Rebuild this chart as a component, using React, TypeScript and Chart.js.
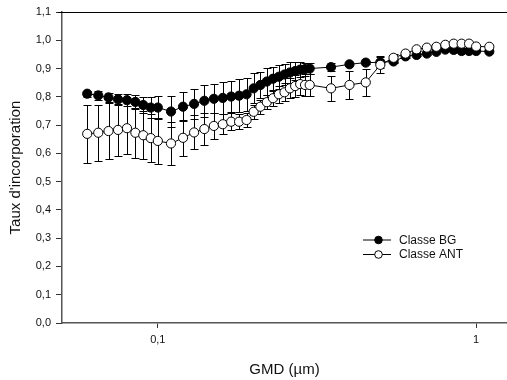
import React, { useEffect, useRef } from "react";
import { Chart, registerables } from "chart.js";

Chart.register(...registerables);

const GMD = [0.06, 0.065, 0.07, 0.075, 0.08, 0.085, 0.09, 0.095, 0.1, 0.11, 0.12, 0.13, 0.14, 0.15, 0.16, 0.17, 0.18, 0.19, 0.2, 0.21, 0.22, 0.23, 0.24, 0.25, 0.26, 0.27, 0.28, 0.29, 0.3, 0.35, 0.4, 0.45, 0.5, 0.55, 0.6, 0.65, 0.7, 0.75, 0.8, 0.85, 0.9, 0.95, 1.0, 1.1];

const BG = [0.811, 0.805, 0.798, 0.791, 0.788, 0.782, 0.771, 0.762, 0.762, 0.748, 0.765, 0.775, 0.786, 0.793, 0.796, 0.801, 0.804, 0.809, 0.83, 0.842, 0.854, 0.864, 0.871, 0.879, 0.886, 0.891, 0.896, 0.898, 0.9, 0.905, 0.915, 0.921, 0.922, 0.925, 0.943, 0.948, 0.953, 0.959, 0.967, 0.966, 0.962, 0.962, 0.962, 0.96];
const BG_ERR = [0.01, 0.015, 0.017, 0.02, 0.022, 0.026, 0.03, 0.036, 0.04, 0.055, 0.051, 0.054, 0.057, 0.052, 0.058, 0.055, 0.059, 0.058, 0.053, 0.047, 0.047, 0.043, 0.042, 0.036, 0.036, 0.031, 0.027, 0.023, 0.02, 0.015, 0.006, 0.006, 0.02, 0.006, 0.005, 0.005, 0.005, 0.005, 0.005, 0.005, 0.005, 0.005, 0.005, 0.005];

const ANT = [0.669, 0.673, 0.679, 0.683, 0.689, 0.673, 0.664, 0.654, 0.644, 0.635, 0.655, 0.674, 0.686, 0.697, 0.703, 0.712, 0.712, 0.718, 0.747, 0.765, 0.781, 0.795, 0.809, 0.816, 0.83, 0.838, 0.845, 0.842, 0.842, 0.83, 0.842, 0.851, 0.913, 0.938, 0.953, 0.968, 0.974, 0.977, 0.984, 0.988, 0.988, 0.988, 0.978, 0.977];
const ANT_ERR = [0.103, 0.099, 0.099, 0.093, 0.092, 0.089, 0.085, 0.084, 0.08, 0.077, 0.063, 0.06, 0.056, 0.045, 0.035, 0.03, 0.027, 0.026, 0.025, 0.025, 0.025, 0.028, 0.03, 0.032, 0.035, 0.038, 0.04, 0.04, 0.04, 0.044, 0.05, 0.048, 0.03, 0.015, 0.006, 0.006, 0.006, 0.006, 0.006, 0.006, 0.006, 0.006, 0.006, 0.006];

const X_TICKS = [0.1, 1];
const X_TICK_LABELS = ["0,1", "1"];
const LEGEND_LABELS = ["Classe BG", "Classe ANT"];
const X_TITLE = "GMD (µm)";
const Y_TITLE = "Taux d'incorporation";

const FONT = "Arial, 'Liberation Sans', sans-serif";

const fmtY = (v: number) => v.toFixed(1).replace(".", ",");

const errorBarPlugin = {
  id: "errorBars",
  beforeDatasetsDraw(chart: any) {
    const { ctx, chartArea, scales } = chart;
    const yScale = scales.y;
    ctx.save();
    ctx.beginPath();
    ctx.rect(chartArea.left, chartArea.top, chartArea.right - chartArea.left, chartArea.bottom - chartArea.top);
    ctx.clip();
    ctx.strokeStyle = "#000";
    ctx.lineWidth = 1;
    chart.data.datasets.forEach((ds: any, i: number) => {
      const meta = chart.getDatasetMeta(i);
      const errs: number[] = ds.errors || [];
      meta.data.forEach((pt: any, j: number) => {
        const v = ds.data[j].y;
        const e = errs[j] || 0;
        const x = Math.round(pt.x) + 0.5;
        const yTop = Math.round(yScale.getPixelForValue(v + e)) + 0.5;
        const yBot = Math.round(yScale.getPixelForValue(v - e)) + 0.5;
        ctx.beginPath();
        ctx.moveTo(x, yTop);
        ctx.lineTo(x, yBot);
        ctx.moveTo(x - 4, yTop);
        ctx.lineTo(x + 4, yTop);
        ctx.moveTo(x - 4, yBot);
        ctx.lineTo(x + 4, yBot);
        ctx.stroke();
      });
    });
    ctx.restore();
  },
  afterDraw(chart: any) {
    const { ctx, chartArea } = chart;
    ctx.save();
    // top frame line
    ctx.strokeStyle = "#000";
    ctx.lineWidth = 1;
    ctx.beginPath();
    ctx.moveTo(chartArea.left - 4, Math.round(chartArea.top) + 0.5);
    ctx.lineTo(chartArea.right, Math.round(chartArea.top) + 0.5);
    ctx.stroke();

    // legend
    const lx = chartArea.left + 301;
    const ly = chartArea.top + 228;
    const rows = [
      { label: LEGEND_LABELS[0], fill: "#000" },
      { label: LEGEND_LABELS[1], fill: "#fff" },
    ];
    ctx.font = `12px ${FONT}`;
    ctx.textBaseline = "middle";
    ctx.textAlign = "left";
    rows.forEach((r, k) => {
      const y = ly + k * 14.5;
      ctx.beginPath();
      ctx.strokeStyle = "#000";
      ctx.lineWidth = 1;
      ctx.moveTo(lx, y);
      ctx.lineTo(lx + 28, y);
      ctx.stroke();
      ctx.beginPath();
      ctx.arc(lx + 15.5, y, 3.8, 0, Math.PI * 2);
      ctx.fillStyle = r.fill;
      ctx.fill();
      ctx.stroke();
      ctx.fillStyle = "#111";
      ctx.fillText(r.label, lx + 36, y + 0.5);
    });
    ctx.restore();
  },
};

export default function App() {
  const ref = useRef<HTMLCanvasElement | null>(null);

  useEffect(() => {
    if (!ref.current) return;
    const chart = new Chart(ref.current, {
      type: "line",
      data: {
        datasets: [
          {
            label: LEGEND_LABELS[0],
            data: GMD.map((x, i) => ({ x, y: BG[i] })),
            errors: BG_ERR,
            borderColor: "#000",
            borderWidth: 1,
            pointRadius: 4.6,
            pointBorderWidth: 1,
            pointBackgroundColor: "#000",
            pointBorderColor: "#000",
            order: 2,
          } as any,
          {
            label: LEGEND_LABELS[1],
            data: GMD.map((x, i) => ({ x, y: ANT[i] })),
            errors: ANT_ERR,
            borderColor: "#000",
            borderWidth: 1,
            pointRadius: 4.6,
            pointBorderWidth: 1,
            pointBackgroundColor: "#fff",
            pointBorderColor: "#000",
            order: 1,
          } as any,
        ],
      },
      options: {
        animation: false,
        responsive: false,
        devicePixelRatio: 1,
        layout: { autoPadding: false, padding: { top: 12, right: 0, left: 0, bottom: 0 } },
        plugins: {
          legend: { display: false },
          tooltip: { enabled: false },
        },
        scales: {
          x: {
            type: "logarithmic",
            min: 0.05,
            max: 1.25,
            afterBuildTicks: (s: any) => {
              s.ticks = X_TICKS.map((v) => ({ value: v }));
            },
            afterFit: (s: any) => {
              s.height = 57;
              s.paddingLeft = 0;
              s.paddingRight = 0;
            },
            border: { display: true, color: "#555", width: 1.5 },
            grid: { drawOnChartArea: false, drawTicks: true, tickLength: 5, color: "#333" },
            ticks: {
              autoSkip: false,
              maxRotation: 0,
              padding: 5,
              color: "#111",
              font: { family: FONT, size: 11 },
              callback: (_v: any, i: number) => X_TICK_LABELS[i],
            },
            title: {
              display: true,
              text: X_TITLE,
              color: "#111",
              font: { family: FONT, size: 15 },
              padding: { top: 0, bottom: 1 },
            },
          },
          y: {
            min: 0,
            max: 1.1,
            afterFit: (s: any) => {
              s.width = 62;
            },
            border: { display: true, color: "#555", width: 1.5 },
            grid: { drawOnChartArea: false, drawTicks: true, tickLength: 6, color: "#333" },
            ticks: {
              stepSize: 0.1,
              padding: 5,
              color: "#111",
              font: { family: FONT, size: 11 },
              callback: (v: any) => fmtY(Number(v)),
            },
            title: {
              display: true,
              text: Y_TITLE,
              color: "#111",
              font: { family: FONT, size: 15 },
              padding: { top: 7, bottom: 0 },
            },
          },
        },
      } as any,
      plugins: [errorBarPlugin],
    });
    return () => chart.destroy();
  }, []);

  return (
    <div style={{ position: "fixed", left: 0, top: 0, width: 507, height: 380, background: "#fff" }}>
      <canvas ref={ref} width={507} height={380} style={{ width: 507, height: 380, display: "block" }} />
    </div>
  );
}
